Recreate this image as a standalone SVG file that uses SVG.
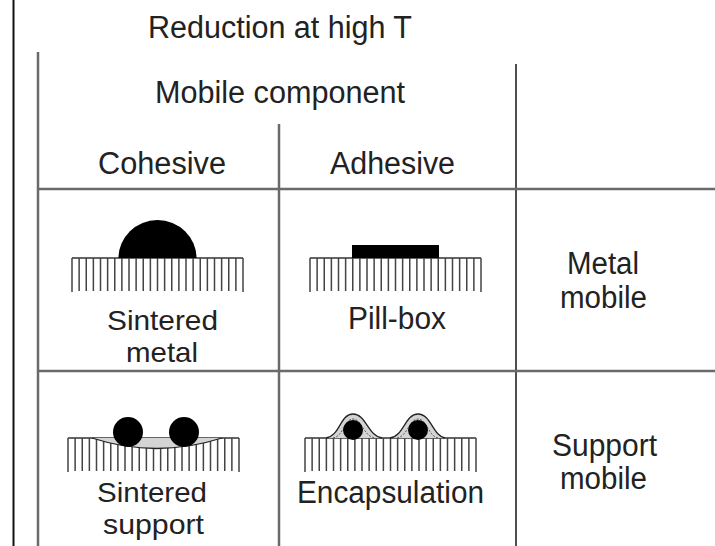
<svg xmlns="http://www.w3.org/2000/svg" xmlns:xlink="http://www.w3.org/1999/xlink" width="715" height="546" viewBox="0 0 715 546">
  <style>
    .lbl { font-family: "Liberation Sans", Arial, Helvetica, sans-serif; font-size: 31px; fill: #222; text-anchor: start; }
    .lbl2 { font-size: 28.5px; }
    .rule { stroke: #6a6a6a; stroke-width: 2.5; fill: none; }
    .rule-dark { stroke: #222; stroke-width: 1.6; fill: none; }
    .edge { stroke: #111; stroke-width: 2; fill: none; }
    .solid { fill: #000; }
    .stipple { fill: #d4d4d4; }
    .rim { stroke: #222; stroke-width: 1.3; fill: none; }
    .rim-in { stroke: #555; stroke-width: 1; stroke-dasharray: 2 1.5; fill: none; }
  </style>
  <defs>
    <!-- support surface: top rule with comb of hatch teeth -->
    <g id="comb">
      <path d="M0,0 H171" stroke="#333" stroke-width="1.6" fill="none"/>
      <path stroke="#444" stroke-width="1.5" fill="none" d="M0,0v34 M7.125,0v33 M14.25,0v33 M21.375,0v33 M28.5,0v33 M35.625,0v33 M42.75,0v33 M49.875,0v33 M57,0v33 M64.125,0v33 M71.25,0v33 M78.375,0v33 M85.5,0v33 M92.625,0v33 M99.75,0v33 M106.875,0v33 M114,0v33 M121.125,0v33 M128.25,0v33 M135.375,0v33 M142.5,0v33 M149.625,0v33 M156.75,0v33 M163.875,0v33 M171,0v34"/>
    </g>
  </defs>

  <rect width="715" height="546" fill="#fff"/>

  <!-- page edge -->
  <path class="edge" d="M13.5,0 V546"/>

  <!-- table rules -->
  <g id="grid">
    <path class="rule" d="M38,52 V546"/>
    <path class="rule" d="M279,124 V546"/>
    <path class="rule-dark" d="M516,64 V546"/>
    <path class="rule" d="M38,189 H715"/>
    <path class="rule" d="M38,371 H715"/>
  </g>

  <!-- headers -->
  <g id="title">
    <text class="lbl" x="148" y="38" textLength="264" lengthAdjust="spacingAndGlyphs">Reduction at high T</text>
  </g>
  <g id="mobile-component">
    <text class="lbl" x="155" y="103" textLength="250" lengthAdjust="spacingAndGlyphs">Mobile component</text>
  </g>
  <g id="cohesive">
    <text class="lbl" x="98" y="174" textLength="128" lengthAdjust="spacingAndGlyphs">Cohesive</text>
  </g>
  <g id="adhesive">
    <text class="lbl" x="330" y="174" textLength="125" lengthAdjust="spacingAndGlyphs">Adhesive</text>
  </g>

  <!-- cohesive, metal mobile -->
  <g id="sintered-metal">
    <use xlink:href="#comb" x="72" y="258"/>
    <path class="solid" d="M118.5,258 A39,38 0 0 1 196.5,258 Z"/>
    <text class="lbl lbl2" x="107" y="330" textLength="111" lengthAdjust="spacingAndGlyphs">Sintered</text>
    <text class="lbl lbl2" x="126" y="362" textLength="72" lengthAdjust="spacingAndGlyphs">metal</text>
  </g>

  <!-- adhesive, metal mobile -->
  <g id="pill-box">
    <use xlink:href="#comb" x="310" y="258"/>
    <rect class="solid" x="352" y="245" width="87" height="13"/>
    <text class="lbl" x="348" y="329" textLength="98" lengthAdjust="spacingAndGlyphs">Pill-box</text>
  </g>

  <g id="metal-mobile">
    <text class="lbl" x="567" y="274" textLength="72" lengthAdjust="spacingAndGlyphs">Metal</text>
    <text class="lbl" x="560" y="308" textLength="87" lengthAdjust="spacingAndGlyphs">mobile</text>
  </g>

  <!-- cohesive, support mobile -->
  <g id="sintered-support">
    <use xlink:href="#comb" x="68" y="438"/>
    <path class="stipple" d="M92,438 Q156,459 222,438 Z"/>
    <path class="rim" d="M92,438 Q156,459 222,438"/>
    <circle class="solid" cx="128" cy="432" r="15"/>
    <circle class="solid" cx="184" cy="432" r="15"/>
    <text class="lbl lbl2" x="97" y="502" textLength="110" lengthAdjust="spacingAndGlyphs">Sintered</text>
    <text class="lbl lbl2" x="103" y="534" textLength="101" lengthAdjust="spacingAndGlyphs">support</text>
  </g>

  <!-- adhesive, support mobile -->
  <g id="encapsulation">
    <use xlink:href="#comb" x="305" y="438"/>
    <path class="stipple" d="M326,438 C340,436 340,414 353,414 C366,414 368,436 382,438 Z"/>
    <path class="stipple" d="M390,438 C404,436 405,414 418,414 C431,414 433,436 445,438 Z"/>
    <path class="rim" d="M326,438 C340,436 340,414 353,414 C366,414 368,436 382,438"/>
    <path class="rim" d="M390,438 C404,436 405,414 418,414 C431,414 433,436 445,438"/>
    <path class="rim-in" d="M333,438 C344,436 344,419 353,419 C362,419 363,436 375,438"/>
    <path class="rim-in" d="M397,438 C408,436 409,419 418,419 C427,419 428,436 438,438"/>
    <circle class="solid" cx="353" cy="430" r="10"/>
    <circle class="solid" cx="418" cy="430" r="10"/>
    <text class="lbl" x="297" y="503" textLength="187" lengthAdjust="spacingAndGlyphs">Encapsulation</text>
  </g>

  <g id="support-mobile">
    <text class="lbl" x="552" y="456" textLength="105" lengthAdjust="spacingAndGlyphs">Support</text>
    <text class="lbl" x="560" y="489" textLength="87" lengthAdjust="spacingAndGlyphs">mobile</text>
  </g>
</svg>
